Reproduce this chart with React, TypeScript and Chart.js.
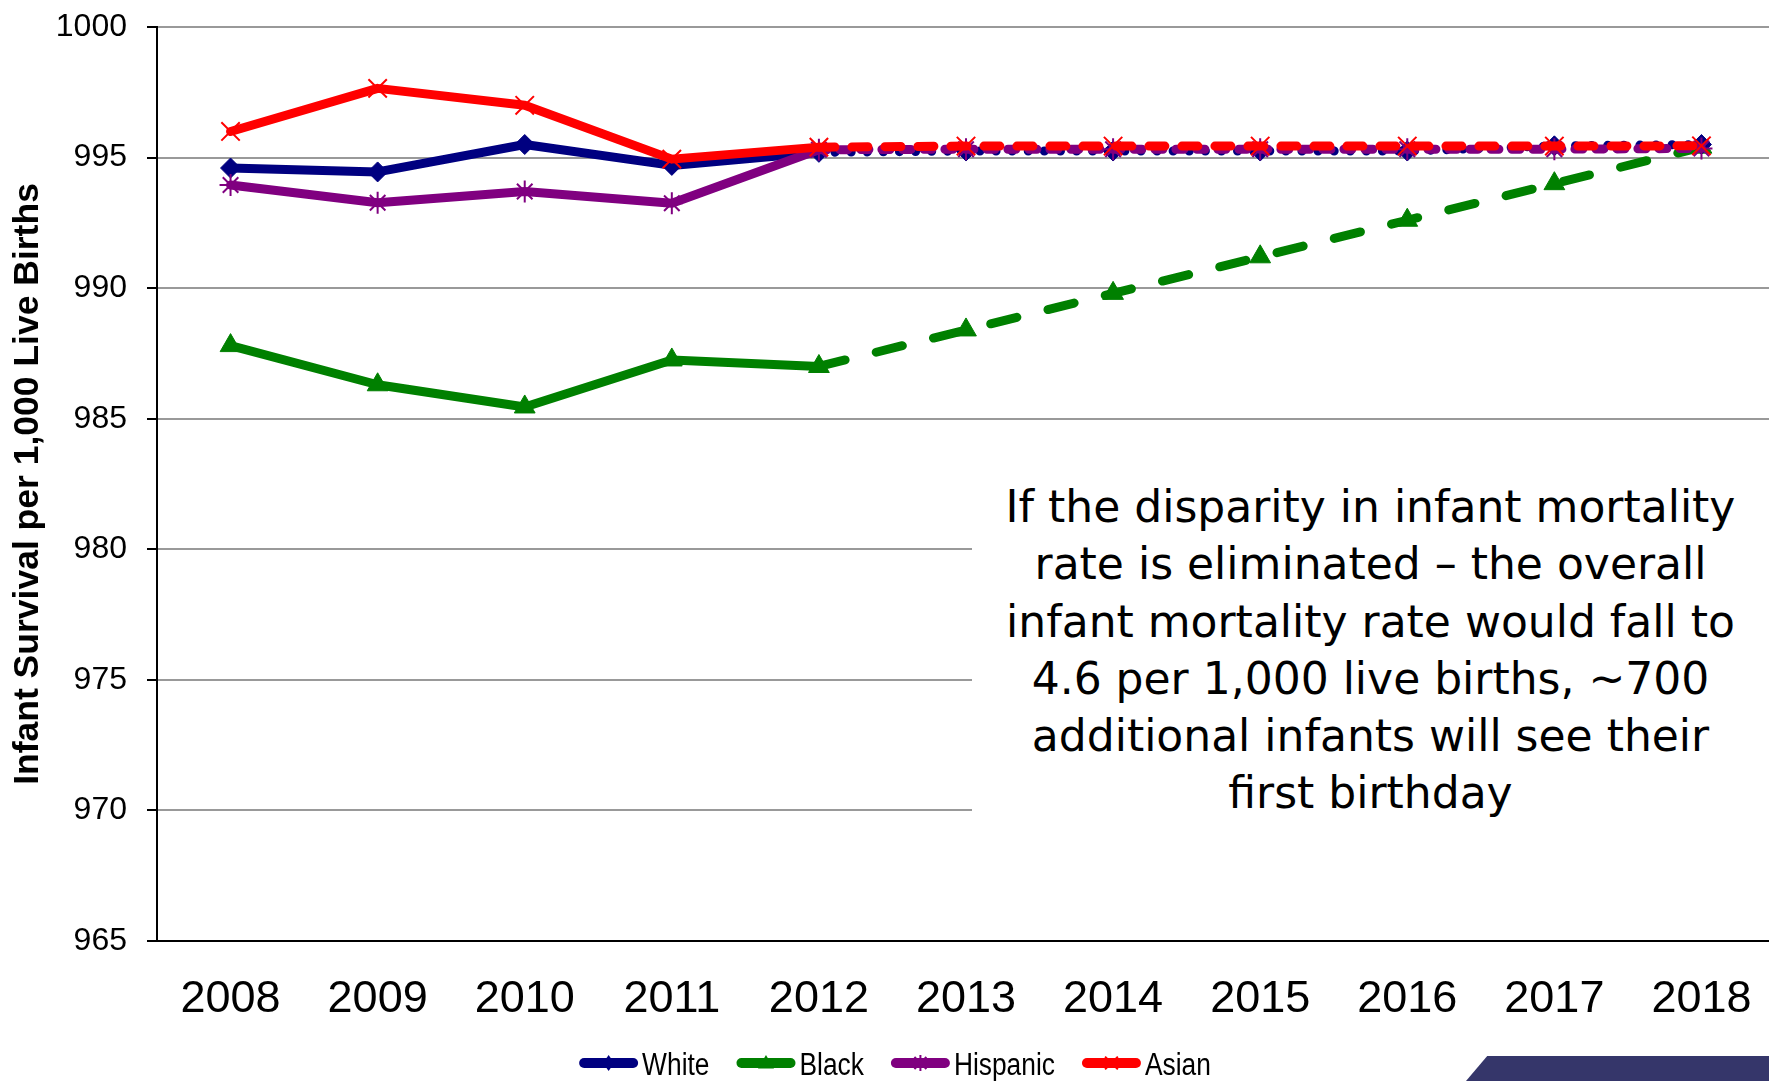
import React, { useEffect, useRef } from "react";
import { Chart, registerables } from "chart.js";

Chart.register(...registerables);

// ---------- data ----------
const years = ["2008", "2009", "2010", "2011", "2012", "2013", "2014", "2015", "2016", "2017", "2018"];
const whiteValues = [994.6, 994.45, 995.5, 994.7, 995.2, 995.25, 995.25, 995.25, 995.25, 995.45, 995.5];
const blackValues = [987.8, 986.3, 985.45, 987.25, 987.0, 988.4, 989.8, 991.2, 992.6, 994.0, 995.4];
const hispanicValues = [993.95, 993.27, 993.7, 993.25, 995.3, 995.32, 995.32, 995.32, 995.32, 995.32, 995.35];
const asianValues = [996.0, 997.65, 997.0, 994.94, 995.4, 995.44, 995.44, 995.44, 995.44, 995.44, 995.45];
const seriesLabels = ["White", "Black", "Hispanic", "Asian"];
const projectionStartIndex = 4; // 2012 onward is projection
const yMin = 965;
const yMax = 1000;
const yStep = 5;
const yAxisTitle = "Infant Survival per 1,000 Live Births";
const noteLines = [
  "If the disparity in infant mortality",
  "rate is eliminated \u2013 the overall",
  "infant mortality rate would fall to",
  "4.6 per 1,000 live births, ~700",
  "additional infants will see their",
  "first birthday",
];

const FONT = '"Liberation Sans", Arial, sans-serif';

function drawMarker(ctx: CanvasRenderingContext2D, style: string, x: number, y: number, r: number, color: string) {
  ctx.save();
  ctx.fillStyle = color;
  ctx.strokeStyle = color;
  ctx.lineWidth = 2;
  ctx.lineCap = "butt";
  ctx.beginPath();
  if (style === "rectRot") {
    ctx.moveTo(x, y - r);
    ctx.lineTo(x + r * 0.7, y);
    ctx.lineTo(x, y + r);
    ctx.lineTo(x - r * 0.7, y);
    ctx.closePath();
    ctx.fill();
  } else if (style === "triangle") {
    ctx.moveTo(x, y - r);
    ctx.lineTo(x + r, y + r * 0.7);
    ctx.lineTo(x - r, y + r * 0.7);
    ctx.closePath();
    ctx.fill();
  } else if (style === "star") {
    ctx.moveTo(x, y - r);
    ctx.lineTo(x, y + r);
    const d = r * 0.75;
    ctx.moveTo(x - d, y - d);
    ctx.lineTo(x + d, y + d);
    ctx.moveTo(x + d, y - d);
    ctx.lineTo(x - d, y + d);
    ctx.stroke();
  } else {
    const d = r * 0.8;
    ctx.moveTo(x - d, y - d);
    ctx.lineTo(x + d, y + d);
    ctx.moveTo(x + d, y - d);
    ctx.lineTo(x - d, y + d);
    ctx.stroke();
  }
  ctx.restore();
}

const LEGEND_CX = 895;
const LEGEND_Y = 1063;

const customLegend = {
  id: "customLegend",
  afterDraw(chart: any) {
    const ctx: CanvasRenderingContext2D = chart.ctx;
    const datasets = chart.data.datasets;
    const sx = 0.85;
    const lineLen = 59;
    const gap = 4;
    const spacing = 27;
    ctx.save();
    ctx.font = `31px ${FONT}`;
    const widths = datasets.map((d: any) => ctx.measureText(d.label).width * sx);
    const total =
      widths.reduce((a: number, w: number) => a + lineLen + gap + w, 0) + spacing * (datasets.length - 1);
    let x = LEGEND_CX - total / 2;
    datasets.forEach((d: any, i: number) => {
      ctx.strokeStyle = d.borderColor;
      ctx.lineWidth = 10;
      ctx.lineCap = "round";
      ctx.beginPath();
      ctx.moveTo(x + 5, LEGEND_Y);
      ctx.lineTo(x + lineLen - 5, LEGEND_Y);
      ctx.stroke();
      drawMarker(ctx, d.pointStyle, x + lineLen / 2, LEGEND_Y, 8, d.borderColor);
      ctx.save();
      ctx.translate(x + lineLen + gap, LEGEND_Y + 3);
      ctx.scale(sx, 1);
      ctx.fillStyle = "#000";
      ctx.textBaseline = "middle";
      ctx.textAlign = "left";
      ctx.fillText(d.label, 0, 0);
      ctx.restore();
      x += lineLen + gap + widths[i] + spacing;
    });
    ctx.restore();
  },
};

function projDash(dash: number[]) {
  return (c: any) => (c.p0DataIndex >= projectionStartIndex ? dash : undefined);
}

export default function App() {
  const canvasRef = useRef<HTMLCanvasElement | null>(null);

  useEffect(() => {
    const canvas = canvasRef.current;
    if (!canvas) return;
    const mk = (
      label: string,
      data: number[],
      color: string,
      pointStyle: string,
      radius: number,
      pointBorderWidth: number,
      dash: number[],
      order: number
    ) => ({
      label,
      data,
      borderColor: color,
      backgroundColor: color,
      borderWidth: 9,
      borderCapStyle: "round" as const,
      borderJoinStyle: "round" as const,
      pointStyle,
      pointRadius: radius,
      pointBorderWidth,
      pointBackgroundColor: color,
      pointBorderColor: color,
      tension: 0,
      order,
      segment: { borderDash: projDash(dash) },
    });

    const chart = new Chart(canvas, {
      type: "line",
      data: {
        labels: years,
        datasets: [
          mk(seriesLabels[0], whiteValues, "#000080", "rectRot", 10, 1, [0.1, 16], 2),
          mk(seriesLabels[1], blackValues, "#008000", "triangle", 12, 1, [27, 32], 3),
          mk(seriesLabels[2], hispanicValues, "#800080", "star", 11, 2, [8, 13], 1),
          mk(seriesLabels[3], asianValues, "#FF0000", "crossRot", 13, 2, [16, 17], 0),
        ] as any,
      },
      options: {
        animation: false,
        responsive: false,
        devicePixelRatio: 1,
        layout: { padding: { left: 4, top: 27, right: 13, bottom: 57 } },
        plugins: {
          legend: { display: false },
          tooltip: { enabled: false },
        },
        scales: {
          x: {
            offset: true,
            grid: { display: false, drawTicks: false },
            border: { display: true, color: "#000", width: 2 },
            ticks: {
              color: "#000",
              font: { family: FONT, size: 45 },
              padding: 32,
              maxRotation: 0,
              autoSkip: false,
            },
            afterFit: (s: any) => {
              s.height = 83;
              s.paddingLeft = 0;
              s.paddingRight = 0;
            },
          },
          y: {
            min: yMin,
            max: yMax,
            ticks: {
              stepSize: yStep,
              color: "#000",
              font: { family: FONT, size: 32 },
              padding: 20,
              callback: (v: any) => String(v),
            },
            grid: { color: "#999999", lineWidth: 2, tickColor: "#000", tickLength: 10, tickWidth: 2 },
            border: { display: true, color: "#000", width: 2 },
            title: {
              display: true,
              text: yAxisTitle,
              color: "#000",
              font: { family: FONT, size: 35.5, weight: "bold" },
              padding: { top: 3, bottom: 4 },
            },
            afterFit: (s: any) => {
              s.width = 153;
              s.paddingTop = 0;
              s.paddingBottom = 0;
            },
          },
        },
      },
      plugins: [customLegend],
    });
    return () => chart.destroy();
  }, []);

  return (
    <div
      style={{
        position: "fixed",
        left: 0,
        top: 0,
        width: 1769,
        height: 1081,
        overflow: "hidden",
        background: "#fff",
      }}
    >
      <canvas ref={canvasRef} width={1790} height={1081} style={{ display: "block", width: 1790, height: 1081 }} />
      <div
        style={{
          position: "absolute",
          left: 972,
          top: 440,
          width: 797,
          height: 400,
          background: "#fff",
        }}
      />
      <div
        style={{
          position: "absolute",
          left: 972,
          top: 478,
          width: 797,
          textAlign: "center",
          fontFamily: "'DejaVu Sans', Verdana, sans-serif",
          fontSize: 44,
          lineHeight: "57.3px",
          color: "#000",
          whiteSpace: "nowrap",
        }}
      >
        {noteLines.map((l, i) => (
          <div key={i}>{l}</div>
        ))}
      </div>
      <div
        style={{
          position: "absolute",
          left: 1466,
          top: 1056,
          width: 303,
          height: 25,
          background: "#35366a",
          clipPath: "polygon(7% 0, 100% 0, 100% 100%, 0 100%)",
        }}
      />
    </div>
  );
}
